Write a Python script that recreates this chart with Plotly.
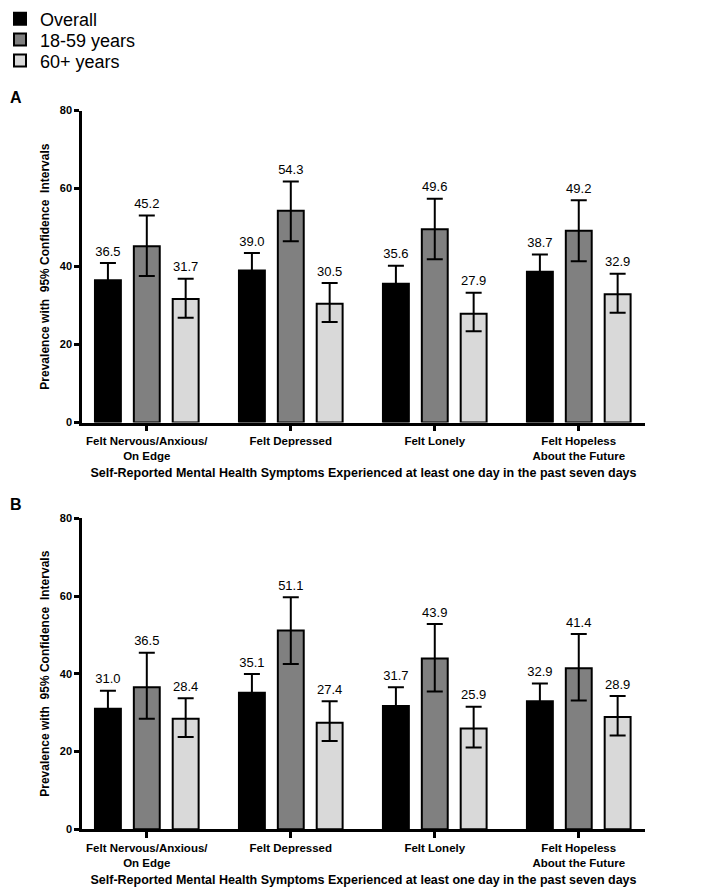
import plotly.graph_objects as go
from plotly.subplots import make_subplots

categories = ["Felt Nervous/Anxious/<br>On Edge", "Felt Depressed", "Felt Lonely",
              "Felt Hopeless<br>About the Future"]
groups = ["Overall", "18-59 years", "60+ years"]

# panel A: estimates and 95% CI bounds
a_values = {
    "Overall": [36.5, 39.0, 35.6, 38.7],
    "18-59 years": [45.2, 54.3, 49.6, 49.2],
    "60+ years": [31.7, 30.5, 27.9, 32.9],
}
a_upper = {
    "Overall": [40.9, 43.5, 40.2, 43.1],
    "18-59 years": [53.1, 61.8, 57.4, 57.0],
    "60+ years": [36.9, 35.8, 33.3, 38.2],
}
a_lower = {
    "Overall": [32.1, 34.5, 31.0, 34.3],
    "18-59 years": [37.6, 46.5, 41.9, 41.4],
    "60+ years": [26.9, 25.8, 23.4, 28.2],
}

# panel B: estimates and 95% CI bounds
b_values = {
    "Overall": [31.0, 35.1, 31.7, 32.9],
    "18-59 years": [36.5, 51.1, 43.9, 41.4],
    "60+ years": [28.4, 27.4, 25.9, 28.9],
}
b_upper = {
    "Overall": [35.6, 39.9, 36.5, 37.5],
    "18-59 years": [45.4, 59.7, 52.8, 50.2],
    "60+ years": [33.7, 32.9, 31.5, 34.3],
}
b_lower = {
    "Overall": [26.4, 30.3, 26.9, 28.3],
    "18-59 years": [28.4, 42.5, 35.4, 33.1],
    "60+ years": [23.7, 22.7, 21.0, 24.1],
}

colors = {"Overall": "#000000", "18-59 years": "#808080", "60+ years": "#d9d9d9"}
offsets = {"Overall": -0.27, "18-59 years": 0.0, "60+ years": 0.27}
legend_ids = {"Overall": "legend", "18-59 years": "legend2", "60+ years": "legend3"}

W, H = 702, 893

fig = make_subplots(rows=2, cols=1)

panels = [(1, a_values, a_upper, a_lower), (2, b_values, b_upper, b_lower)]
for row, vals, up, lo in panels:
    for g in groups:
        xs = [i + offsets[g] for i in range(len(categories))]
        fig.add_trace(
            go.Bar(
                x=xs,
                y=vals[g],
                width=0.18,
                name=g,
                legend=legend_ids[g],
                showlegend=(row == 1),
                marker=dict(color=colors[g], line=dict(color="black", width=2)),
                error_y=dict(
                    type="data",
                    symmetric=False,
                    array=[u - v for u, v in zip(up[g], vals[g])],
                    arrayminus=[v - l for v, l in zip(vals[g], lo[g])],
                    color="black",
                    thickness=2,
                    width=8,
                ),
            ),
            row=row,
            col=1,
        )
        fig.add_trace(
            go.Scatter(
                x=xs,
                y=up[g],
                mode="markers+text",
                marker=dict(size=5, opacity=0),
                text=[f"{v:.1f}" for v in vals[g]],
                textposition="top center",
                textfont=dict(size=13, color="black"),
                showlegend=False,
                hoverinfo="skip",
            ),
            row=row,
            col=1,
        )

xdom = [82 / W, 645 / W]
ydoms = [[1 - 421 / H, 1 - 108 / H], [1 - 829 / H, 1 - 517 / H]]

for row in (1, 2):
    fig.update_xaxes(
        domain=xdom,
        range=[-0.45, 3.46],
        automargin=False,
        tickvals=list(range(len(categories))),
        ticktext=[f"<b>{c}</b>" for c in categories],
        tickfont=dict(size=11.5, color="black"),
        showline=True,
        linecolor="black",
        linewidth=2.5,
        ticks="outside",
        ticklen=6,
        tickwidth=2.5,
        tickcolor="black",
        showgrid=False,
        zeroline=False,
        title=dict(
            text="<b>Self-Reported Mental Health Symptoms Experienced at least one day in the past seven days</b>",
            font=dict(size=12.5, color="black"),
            standoff=8,
        ),
        row=row,
        col=1,
    )
    fig.update_yaxes(
        domain=ydoms[row - 1],
        range=[0, 80],
        automargin=False,
        tickvals=[0, 20, 40, 60, 80],
        tickfont=dict(size=11, color="black", weight="bold"),
        showline=True,
        linecolor="black",
        linewidth=2.5,
        ticks="outside",
        ticklen=5,
        tickwidth=2.5,
        tickcolor="black",
        showgrid=False,
        zeroline=False,
        title=dict(
            text="<b>Prevalence with  95% Confidence  Intervals</b>",
            font=dict(size=12, color="black"),
            standoff=8,
        ),
        row=row,
        col=1,
    )

fig.add_annotation(text="<b>A</b>", x=8 / W, y=1 - 95 / H, xref="paper", yref="paper",
                   xanchor="left", yanchor="middle", showarrow=False,
                   font=dict(size=16, color="black"))
fig.add_annotation(text="<b>B</b>", x=8 / W, y=1 - 503 / H, xref="paper", yref="paper",
                   xanchor="left", yanchor="middle", showarrow=False,
                   font=dict(size=16, color="black"))

legend_style = dict(
    x=0,
    xanchor="left",
    yanchor="middle",
    font=dict(size=18, color="black"),
    itemwidth=30,
    bgcolor="rgba(0,0,0,0)",
)

fig.update_layout(
    width=W,
    height=H,
    margin=dict(l=0, r=0, t=0, b=0),
    barmode="overlay",
    plot_bgcolor="white",
    paper_bgcolor="white",
    font=dict(family="Arial, Liberation Sans, sans-serif", color="black"),
    legend=dict(y=1 - 16 / H, **legend_style),
    legend2=dict(y=1 - 37 / H, **legend_style),
    legend3=dict(y=1 - 58 / H, **legend_style),
)

# the page's default body margin would shift the figure by 8px
fig.write_html(
    "out.html",
    config={"displayModeBar": False},
    post_script="document.body.style.margin = '0';",
)
